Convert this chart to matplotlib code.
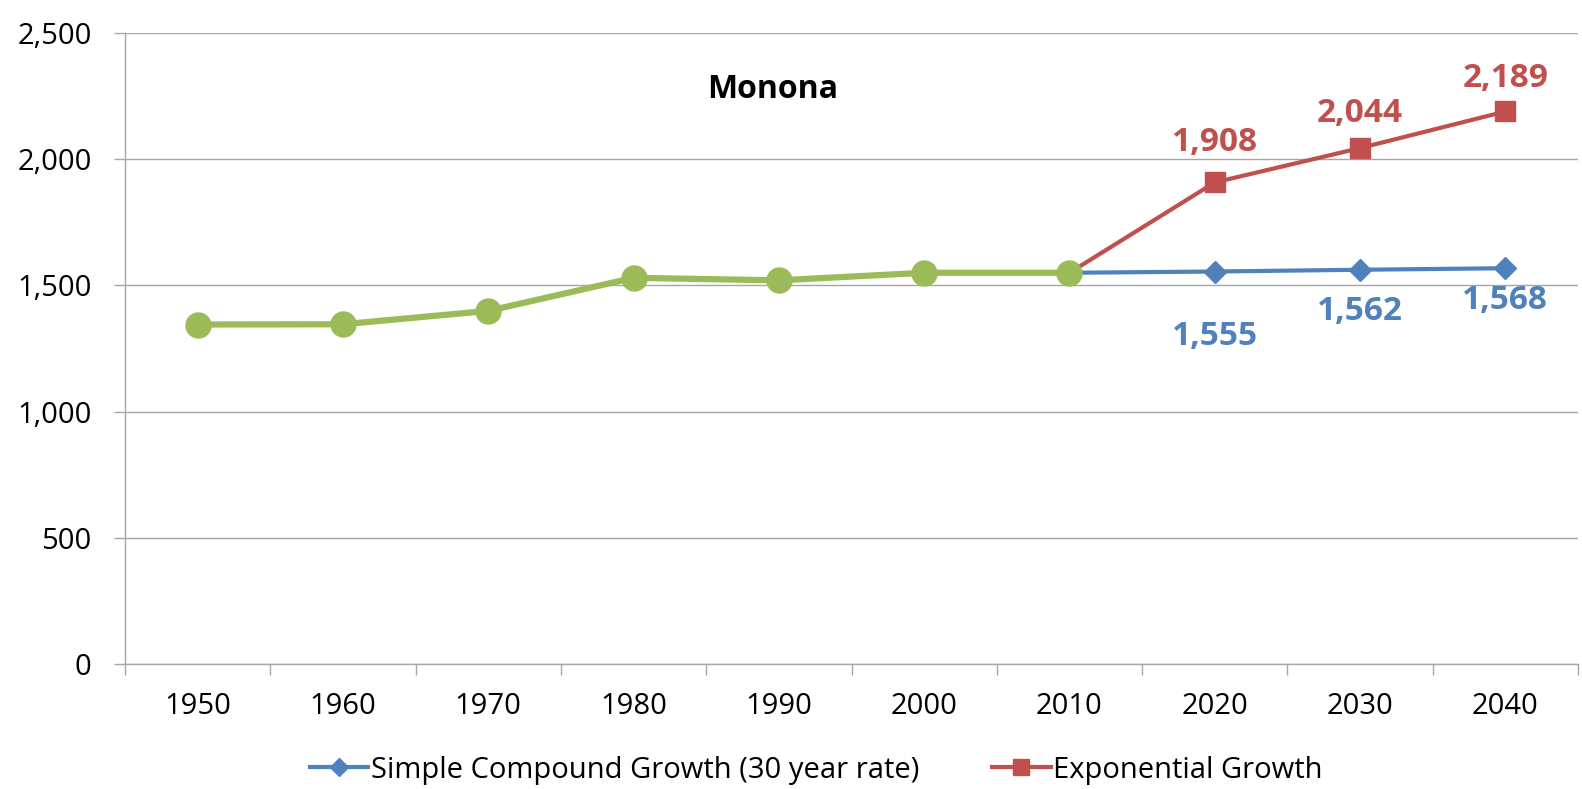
import matplotlib
matplotlib.use("Agg")
import matplotlib.pyplot as plt
from matplotlib.ticker import FuncFormatter, MultipleLocator, FixedLocator

# data
years = ["1950", "1960", "1970", "1980", "1990", "2000", "2010", "2020", "2030", "2040"]
history = [1345, 1346, 1399, 1530, 1520, 1550, 1550]
simple_years = ["2010", "2020", "2030", "2040"]
simple_vals = [1550, 1555, 1562, 1568]
expo_years = ["2010", "2020", "2030", "2040"]
expo_vals = [1550, 1908, 2044, 2189]

GREEN = "#9BBB59"
BLUE = "#4F81BD"
RED = "#C0504D"
GRID = "#A6A6A6"

plt.rcParams["font.family"] = ["Open Sans", "DejaVu Sans"]

fig = plt.figure(figsize=(15.82, 7.89), dpi=100)
ax = fig.add_axes([0.079, 0.1584, 0.9185, 0.7998])

idx = {y: i for i, y in enumerate(years)}
xs_simple = [idx[y] for y in simple_years]
xs_expo = [idx[y] for y in expo_years]

ax.plot(xs_expo, expo_vals, color=RED, lw=3, marker="s", ms=14,
        markevery=[1, 2, 3], label="Exponential Growth", zorder=3)
ax.plot(xs_simple, simple_vals, color=BLUE, lw=3, marker="D", ms=11,
        markevery=[1, 2, 3], label="Simple Compound Growth (30 year rate)", zorder=3)
ax.plot(range(len(history)), history, color=GREEN, lw=4.5, marker="o", ms=18,
        zorder=4)

# data labels (skip the 2010 join point)
simple_off = [47, 30, 23]
for x, v, off in zip(xs_simple[1:], simple_vals[1:], simple_off):
    ax.annotate(f"{v:,}", (x, v), xytext=(0, -off), textcoords="offset points",
                ha="center", va="center", color=BLUE, fontsize=24, fontweight="bold")
expo_off = [29, 25, 24]
for x, v, off in zip(xs_expo[1:], expo_vals[1:], expo_off):
    ax.annotate(f"{v:,}", (x, v), xytext=(0, off), textcoords="offset points",
                ha="center", va="center", color=RED, fontsize=24, fontweight="bold")

ax.text(3.96, 2275, "Monona", ha="center", va="center", fontsize=23, fontweight="bold")

ax.set_xlim(-0.5, len(years) - 0.5)
ax.set_ylim(0, 2500)
ax.yaxis.set_major_locator(MultipleLocator(500))
ax.yaxis.set_major_formatter(FuncFormatter(lambda v, p: f"{int(v):,}"))
ax.set_xticks(range(len(years)))
ax.set_xticklabels(years)
ax.xaxis.set_minor_locator(FixedLocator([i - 0.5 for i in range(len(years) + 1)]))
ax.tick_params(axis="x", which="major", length=0, pad=20, labelsize=21)
ax.tick_params(axis="x", which="minor", length=8, color=GRID, width=1)
ax.tick_params(axis="y", length=8, color=GRID, width=1, labelsize=21, pad=16)

ax.grid(axis="y", color=GRID, lw=1)
ax.set_axisbelow(True)
for s in ["top", "right"]:
    ax.spines[s].set_visible(False)
for s in ["left", "bottom"]:
    ax.spines[s].set_color(GRID)
    ax.spines[s].set_linewidth(1)

handles, labels = ax.get_legend_handles_labels()
fig.legend(handles[::-1], labels[::-1], loc="center", bbox_to_anchor=(0.516, 0.024),
           ncol=2, frameon=False, fontsize=21, handlelength=2.0, columnspacing=2.5,
           handletextpad=0.1, markerscale=0.85)

fig.savefig("out.png", dpi=100)
